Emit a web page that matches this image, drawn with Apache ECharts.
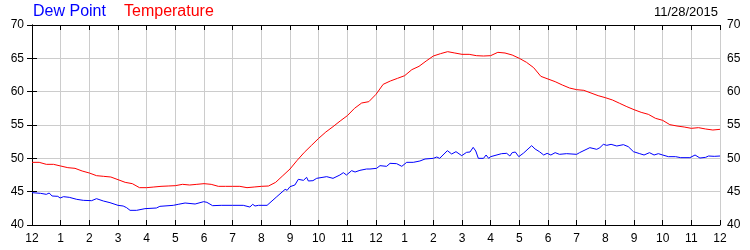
<!DOCTYPE html>
<html>
<head>
<meta charset="utf-8">
<script src="https://cdn.jsdelivr.net/npm/echarts@6/dist/echarts.min.js"></script>
<style>
html,body{margin:0;padding:0;background:#fff;}
#chart{width:750px;height:250px;}
</style>
</head>
<body>
<div id="chart"></div>
<script>
// ---- data ----
const dateLabel = "11/28/2015";
const legendNames = ["Dew Point", "Temperature"];
const yTicks = [40, 45, 50, 55, 60, 65, 70];
const hourLabels = ["12","1","2","3","4","5","6","7","8","9","10","11","12","1","2","3","4","5","6","7","8","9","10","11","12"];

// Temperature, every 15 minutes from midnight
const tempStepHours = 0.25;
const temperature = [
  49.4,49.4,49.1,49.1,48.85,48.6,48.5,48.1,47.8,47.4,47.3,47.2,46.8,46.4,46.2,45.6,
  45.6,45.7,45.8,45.85,45.9,46.1,46.0,46.1,46.2,46.1,45.8,45.8,45.8,45.8,45.6,45.7,
  45.8,45.85,46.4,47.4,48.4,49.7,50.9,51.95,53.0,53.95,54.75,55.6,56.4,57.5,58.3,58.5,
  59.6,61.1,61.6,62.0,62.4,63.3,63.8,64.6,65.35,65.7,66.0,65.8,65.6,65.6,65.4,65.35,
  65.4,65.9,65.8,65.5,65.0,64.4,63.6,62.3,61.9,61.5,61.0,60.55,60.3,60.2,59.8,59.4,
  59.1,58.75,58.25,57.75,57.3,56.9,56.6,56.0,55.7,55.05,54.85,54.7,54.5,54.6,54.4,54.25,
  54.35
];

// Dew point, read at irregular times (hours after midnight)
const dewHours = [
  0.0,0.3,0.5,0.6,0.7,0.9,0.98,1.1,1.3,1.56,1.79,2.08,2.25,2.49,2.72,3.0,3.18,3.3,3.42,3.65,
  3.94,4.34,4.46,4.93,5.1,5.34,5.69,5.99,6.1,6.3,6.6,7.0,7.37,7.6,7.7,7.78,7.9,8.2,8.54,8.83,
  8.9,9.0,9.17,9.29,9.47,9.58,9.64,9.8,9.93,10.28,10.5,10.74,10.86,10.97,11.15,11.27,11.44,11.67,11.79,12.02,
  12.14,12.37,12.49,12.72,12.9,13.07,13.3,13.53,13.71,14.0,14.12,14.22,14.49,14.64,14.79,14.99,15.16,15.28,15.39,15.48,
  15.57,15.75,15.84,15.93,16.0,16.06,16.38,16.56,16.67,16.75,16.86,16.98,17.15,17.43,17.55,17.7,17.85,17.97,18.1,18.25,
  18.4,18.65,19.0,19.1,19.46,19.7,19.81,19.93,20.05,20.2,20.4,20.63,20.8,20.98,21.2,21.35,21.54,21.7,21.85,22.0,
  22.2,22.45,22.63,22.95,23.13,23.3,23.5,23.6,23.8,24.0
];
const dewPoint = [
  44.85,44.75,44.6,44.8,44.35,44.3,44.05,44.25,44.15,43.85,43.7,43.65,43.95,43.6,43.35,42.95,42.85,42.6,42.2,42.2,
  42.45,42.55,42.8,42.95,43.1,43.3,43.15,43.5,43.4,42.9,42.95,42.95,42.95,42.7,43.1,42.85,42.95,42.95,44.25,45.35,
  45.2,45.75,46.0,46.85,46.7,47.15,46.6,46.65,47.0,47.25,47.0,47.5,47.85,47.5,48.15,47.95,48.2,48.4,48.4,48.5,
  48.9,48.8,49.25,49.2,48.8,49.4,49.4,49.6,49.9,50.0,50.2,50.0,51.15,50.65,51.0,50.4,50.9,50.95,51.65,51.1,
  50.0,50.0,50.5,50.0,50.25,50.0,50.7,50.75,50.35,50.85,50.95,50.25,50.8,51.9,51.4,51.0,50.5,50.75,50.5,50.85,
  50.6,50.7,50.6,50.85,51.6,51.35,51.6,52.1,51.95,52.1,51.85,52.05,51.75,51.0,50.7,50.5,50.85,50.5,50.7,50.5,
  50.25,50.25,50.1,50.1,50.5,50.05,50.15,50.35,50.3,50.35
];

// ---- build ----
const tempData = temperature.map((v, i) => [i * tempStepHours, v]);
const dewData = dewHours.map((h, i) => [h, dewPoint[i]]);

const FONT = '"Liberation Sans", Arial, sans-serif';
const axisLine = { show: true, lineStyle: { color: '#000', width: 1 } };
const axisTickIn = { show: true, inside: true, length: 5, lineStyle: { color: '#000' } };
const grid = { left: 32, right: 30, top: 25, bottom: 25, containLabel: false };

const chart = echarts.init(document.getElementById('chart'), null, { renderer: 'canvas' });
chart.setOption({
  animation: false,
  backgroundColor: '#fff',
  grid: grid,
  title: [
    { text: legendNames[0], left: 33, top: 4, padding: 0, textStyle: { color: '#0000ff', fontSize: 16, fontWeight: 'normal', fontFamily: FONT } },
    { text: legendNames[1], left: 124, top: 4, padding: 0, textStyle: { color: '#ff0000', fontSize: 16, fontWeight: 'normal', fontFamily: FONT } },
    { text: dateLabel, right: 32, top: 6, padding: 0, textStyle: { color: '#000', fontSize: 13, fontWeight: 'normal', fontFamily: FONT } }
  ],
  xAxis: [
    {
      type: 'value', position: 'bottom', min: 0, max: 24, interval: 1,
      axisLine: axisLine, axisTick: axisTickIn,
      axisLabel: { color: '#000', fontSize: 12, fontFamily: FONT, margin: 8,
        formatter: v => hourLabels[Math.round(v)] },
      splitLine: { show: true, lineStyle: { color: '#cccccc', width: 1 } }
    },
    {
      type: 'value', position: 'top', min: 0, max: 24, interval: 1,
      axisLine: axisLine, axisTick: axisTickIn,
      axisLabel: { show: false }, splitLine: { show: false }
    }
  ],
  yAxis: [
    {
      type: 'value', position: 'left', min: yTicks[0], max: yTicks[yTicks.length - 1], interval: 5,
      axisLine: axisLine, axisTick: axisTickIn,
      axisLabel: { color: '#000', fontSize: 12, fontFamily: FONT, margin: 8 },
      splitLine: { show: true, lineStyle: { color: '#cccccc', width: 1 } }
    },
    {
      type: 'value', position: 'right', min: yTicks[0], max: yTicks[yTicks.length - 1], interval: 5,
      axisLine: axisLine, axisTick: axisTickIn,
      axisLabel: { color: '#000', fontSize: 12, fontFamily: FONT, margin: 7 },
      splitLine: { show: false }
    }
  ],
  series: [
    {
      name: legendNames[0], type: 'line', data: dewData, xAxisIndex: 0, yAxisIndex: 0,
      showSymbol: false, symbol: 'none', lineStyle: { color: '#0000ff', width: 1 }, z: 3
    },
    {
      name: legendNames[1], type: 'line', data: tempData, xAxisIndex: 0, yAxisIndex: 0,
      showSymbol: false, symbol: 'none', lineStyle: { color: '#ff0000', width: 1 }, z: 3
    }
  ]
});
</script>
</body>
</html>
